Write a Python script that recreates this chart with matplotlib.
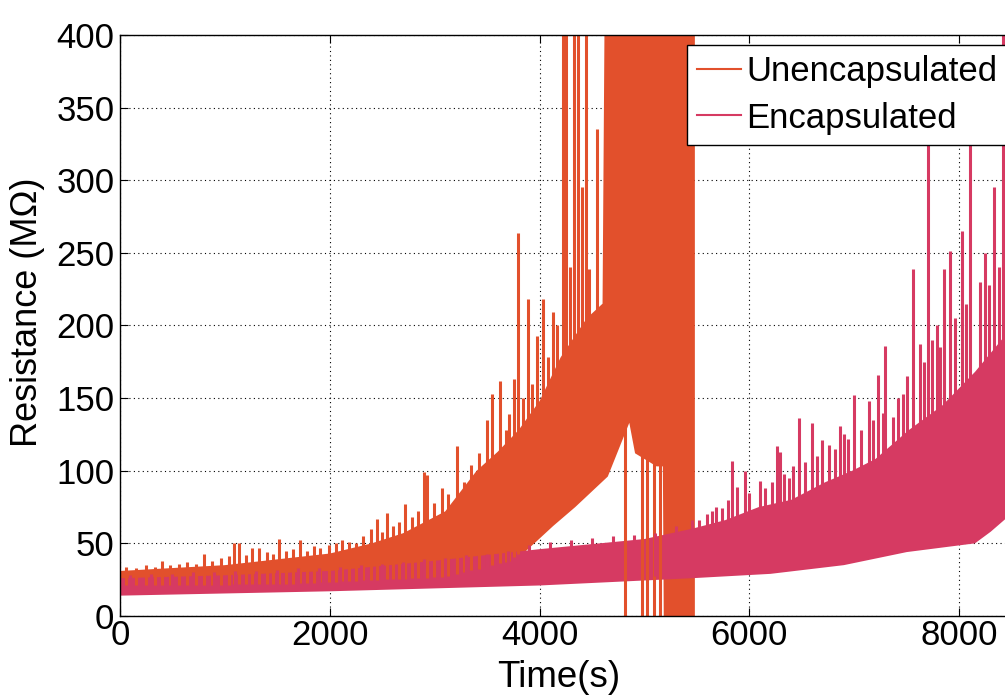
import numpy as np
import matplotlib.pyplot as plt
from matplotlib.lines import Line2D

plt.rcParams['font.family'] = ['Liberation Sans', 'DejaVu Sans']

# values (time in s, resistance in MOhm)
# unencapsulated sensor: dense band envelope
unenc_hi_t = [0, 500, 1000, 1500, 2000, 2400, 2700, 3100, 3400, 3600, 3800, 4000, 4200, 4450, 4600, 4620, 5480]
unenc_hi = [31, 33, 35, 39, 43, 50, 57, 72, 100, 113, 128, 148, 178, 205, 215, 420, 420]
unenc_lo_t = [0, 1550, 3100, 3720, 3980, 4130, 4340, 4650, 4855, 4910, 5115, 5175, 5185, 5480]
unenc_lo = [18, 19, 24, 35, 52, 62, 75, 96, 133, 112, 103, 103, -20, -20]
# peaks sticking out of the band
unenc_spike_t = [60, 150, 250, 330, 403, 480, 560, 640, 720, 800, 880, 960, 1040, 1085, 1131,
                 1200, 1260, 1322, 1400, 1460, 1514, 1580, 1650, 1715, 1780, 1850, 1911, 1990,
                 2060, 2120, 2180, 2250, 2320, 2390, 2449, 2500, 2547, 2600, 2660, 2717, 2780,
                 2840, 2898, 2927, 2990, 3069, 3130, 3213, 3280, 3350, 3420, 3498, 3546, 3622,
                 3680, 3709, 3756, 3792, 3840, 3885, 3930, 3978, 4030, 4080, 4123, 4170, 4220,
                 4247, 4290, 4329, 4370, 4401, 4443, 4474, 4546]
unenc_spike_v = [34, 33, 35, 34, 38, 35, 36, 37, 36, 43, 38, 40, 41, 50, 50,
                 42, 47, 47, 44, 43, 53, 45, 46, 52, 45, 48, 47, 49,
                 50, 52, 51, 50, 55, 60, 67, 58, 71, 62, 65, 77, 68,
                 72, 99, 97, 78, 88, 84, 117, 92, 104, 112, 135, 153, 162,
                 128, 139, 163, 264, 150, 218, 160, 193, 218, 178, 209, 200, 420,
                 420, 240, 420, 420, 295, 420, 239, 335]
# readings that jump over the whole range
unenc_full_t = [4815, 4976, 5024, 5091, 5148]

# encapsulated sensor
enc_t = [0, 1000, 2000, 3000, 4000, 5000, 5450, 5770, 6090, 6400, 6720, 6980, 7200, 7520, 7840, 8150, 8460, 8560]
enc_hi = [26, 28, 31, 38, 46, 53, 60, 66, 75, 80, 92, 100, 108, 128, 145, 168, 195, 205]
enc_lo_t = [0, 2000, 4000, 5450, 6200, 6900, 7500, 8150, 8300, 8460, 8560]
enc_lo = [14, 17, 21, 26, 29, 35, 44, 50, 58, 68, 72]
enc_spike_t = [100, 300, 500, 700, 900, 1100, 1300, 1500, 1700, 1900, 2100, 2300, 2500, 2700,
               2900, 3100, 3300, 3500, 3700, 3900, 4100, 4300, 4500, 4700, 4900, 5100, 5300,
               5450, 5520, 5596, 5640, 5682, 5740, 5800, 5834, 5882, 5958, 6000, 6101, 6150,
               6220, 6263, 6292, 6330, 6378, 6420, 6473, 6530, 6597, 6640, 6692, 6760, 6816,
               6864, 6902, 6940, 6997, 7060, 7140, 7180, 7226, 7270, 7293, 7369, 7420, 7464,
               7500, 7560, 7626, 7660, 7703, 7740, 7788, 7820, 7855, 7912, 7960, 8027, 8060,
               8103, 8200, 8250, 8284, 8332, 8379, 8418, 8437, 8480, 8520]
enc_spike_v = [28, 29, 29, 30, 30, 31, 31, 32, 33, 33, 34, 35, 36, 37,
               39, 40, 42, 43, 45, 49, 51, 52, 54, 55, 56, 57, 62,
               66, 66, 70, 72, 75, 74, 80, 107, 89, 100, 85, 93, 88,
               92, 117, 113, 98, 95, 103, 136, 106, 133, 110, 121, 118, 115,
               131, 125, 122, 152, 128, 148, 135, 166, 140, 186, 137, 150, 153,
               165, 239, 187, 175, 360, 190, 200, 185, 239, 251, 205, 265, 215,
               360, 230, 250, 228, 295, 240, 420, 295, 260, 300]

c_unenc = '#E2502C'
c_enc = '#D63A62'

fig = plt.figure(figsize=(10.05, 6.98), dpi=100)
ax = fig.add_axes([0.1194, 0.1175, 0.8935, 0.8324])

# spikes rise from the lower edge of their own band
unenc_base = np.interp(unenc_spike_t, unenc_lo_t, unenc_lo) + 3
enc_base = np.interp(enc_spike_t, enc_lo_t, enc_lo) + 3

# unencapsulated first, encapsulated drawn on top
ax.fill(np.r_[unenc_hi_t, unenc_lo_t[::-1]], np.r_[unenc_hi, unenc_lo[::-1]], color=c_unenc, lw=0)
ax.vlines(unenc_spike_t, unenc_base, unenc_spike_v, color=c_unenc, lw=2.2)
ax.vlines(unenc_full_t, -20, 420, color=c_unenc, lw=2.2)

ax.fill(np.r_[enc_t, enc_lo_t[::-1]], np.r_[enc_hi, enc_lo[::-1]], color=c_enc, lw=0)
ax.vlines(enc_spike_t, enc_base, enc_spike_v, color=c_enc, lw=2.2)

ax.set_xlim(0, 8560)
ax.set_ylim(0, 400)
ax.set_xticks([0, 2000, 4000, 6000, 8000])
ax.set_yticks(np.arange(0, 401, 50))
ax.set_axisbelow(True)
ax.grid(True, color='k', linestyle=(0, (1, 3)), lw=0.8)
ax.tick_params(direction='in', length=6, width=0.8, top=True, right=True, labelsize=25)
ax.tick_params(axis='x', pad=2)
ax.tick_params(axis='y', pad=4)
for s in ax.spines.values():
    s.set_linewidth(1.0)

ax.set_xlabel('Time(s)', fontsize=26.5)
ax.set_ylabel('Resistance (M\u03a9)', fontsize=26)
ax.xaxis.set_label_coords(0.488, -0.075)
ax.yaxis.set_label_coords(-0.084, 0.523)

handles = [Line2D([], [], color=c_unenc, lw=1.5), Line2D([], [], color=c_enc, lw=1.5)]
ax.legend(handles, ['Unencapsulated', 'Encapsulated'], loc='upper left',
          bbox_to_anchor=(687 / 1005, 1 - 45 / 698), bbox_transform=fig.transFigure,
          fontsize=25, handlelength=1.25, handletextpad=0.15, borderpad=0.3,
          labelspacing=0.38, borderaxespad=0, fancybox=False, framealpha=1,
          edgecolor='k')

fig.savefig('out.png', dpi=100)
